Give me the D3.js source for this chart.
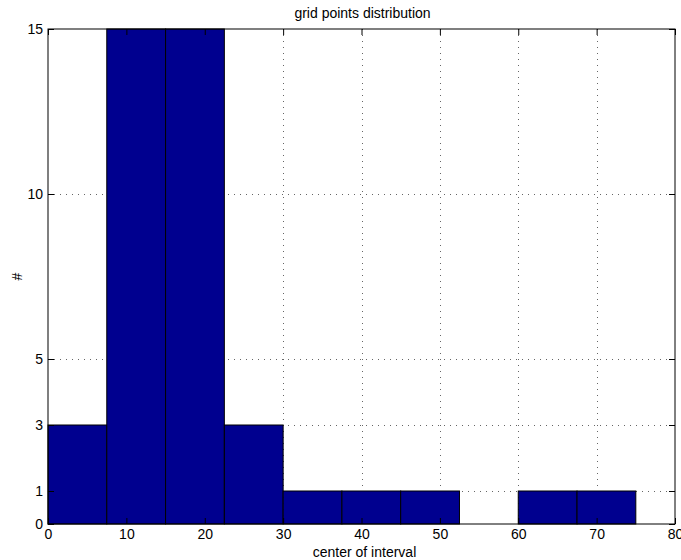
<!DOCTYPE html>
<html>
<head>
<meta charset="utf-8">
<script src="https://cdn.jsdelivr.net/npm/d3@7"></script>
<style>
body { margin: 0; background: #fff; }
text { font-family: "Liberation Sans", Arial, sans-serif; font-size: 14px; fill: #000; }
</style>
</head>
<body>
<div class="chart"></div>
<script>
// histogram data
var centers = [3.75, 11.25, 18.75, 26.25, 33.75, 41.25, 48.75, 56.25, 63.75, 71.25];
var counts = [3, 15, 15, 3, 1, 1, 1, 0, 1, 1];
var binWidth = 7.5;
var xTicks = [0, 10, 20, 30, 40, 50, 60, 70, 80];
var yTicks = [0, 1, 3, 5, 10, 15];

var width = 681, height = 560;
var margin = {left: 48, top: 29, right: 6, bottom: 36};

var svg = d3.select(".chart").append("svg")
    .attr("width", width)
    .attr("height", height);

var x = d3.scaleLinear().domain([0, 80]).range([margin.left, width - margin.right]);
var y = d3.scaleLinear().domain([0, 15]).range([height - margin.bottom, margin.top]);

var x0 = x.range()[0], x1 = x.range()[1], y0 = y.range()[0], y1 = y.range()[1];

// grid
var grid = svg.append("g").attr("stroke", "#000").attr("stroke-width", 1)
    .attr("stroke-dasharray", "1,5").attr("stroke-opacity", 0.6);
grid.selectAll(".gx").data(xTicks.slice(1, -1)).enter().append("line")
    .attr("x1", function(d){ return Math.round(x(d)) + 0.5; })
    .attr("x2", function(d){ return Math.round(x(d)) + 0.5; })
    .attr("y1", y1).attr("y2", y0);
grid.selectAll(".gy").data(yTicks.slice(1, -1)).enter().append("line")
    .attr("y1", function(d){ return Math.round(y(d)) + 0.5; })
    .attr("y2", function(d){ return Math.round(y(d)) + 0.5; })
    .attr("x1", x0).attr("x2", x1);

// bars
svg.append("g").selectAll("rect")
    .data(centers.map(function(c, i){ return {c: c, n: counts[i]}; }).filter(function(d){ return d.n > 0; }))
    .enter().append("rect")
    .attr("x", function(d){ return x(d.c - binWidth / 2); })
    .attr("width", function(d){ return x(d.c + binWidth / 2) - x(d.c - binWidth / 2); })
    .attr("y", function(d){ return y(d.n); })
    .attr("height", function(d){ return y(0) - y(d.n); })
    .attr("fill", "#00008f")
    .attr("stroke", "#000")
    .attr("stroke-width", 1);

// axes, ticks inward on all four sides
var tl = 6;
svg.append("g").attr("transform", "translate(0," + y0 + ")")
    .call(d3.axisBottom(x).tickValues(xTicks).tickSizeInner(-tl).tickSizeOuter(0).tickPadding(5))
    .call(function(g){ g.select(".domain").remove(); });
svg.append("g").attr("transform", "translate(0," + y1 + ")")
    .call(d3.axisTop(x).tickValues(xTicks).tickSizeInner(-tl).tickSizeOuter(0).tickFormat(""))
    .call(function(g){ g.select(".domain").remove(); });
svg.append("g").attr("transform", "translate(" + x0 + ",0)")
    .call(d3.axisLeft(y).tickValues(yTicks).tickSizeInner(-tl).tickSizeOuter(0).tickPadding(5))
    .call(function(g){ g.select(".domain").remove(); });
svg.append("g").attr("transform", "translate(" + x1 + ",0)")
    .call(d3.axisRight(y).tickValues(yTicks).tickSizeInner(-tl).tickSizeOuter(0).tickFormat(""))
    .call(function(g){ g.select(".domain").remove(); });
svg.selectAll(".tick text").style("font-size", "14px").attr("font-family", null);

svg.append("rect")
    .attr("x", x0).attr("y", y1)
    .attr("width", x1 - x0).attr("height", y0 - y1)
    .attr("fill", "none").attr("stroke", "#000").attr("stroke-width", 1);

// labels
svg.append("text").attr("x", (x0 + x1) / 2 + 1).attr("y", 18)
    .attr("text-anchor", "middle").text("grid points distribution");
svg.append("text").attr("x", (x0 + x1) / 2 + 3).attr("y", 557)
    .attr("text-anchor", "middle").text("center of interval");
svg.append("text").attr("transform", "translate(22," + ((y0 + y1) / 2) + ") rotate(-90)")
    .attr("text-anchor", "middle").text("#");
</script>
</body>
</html>
